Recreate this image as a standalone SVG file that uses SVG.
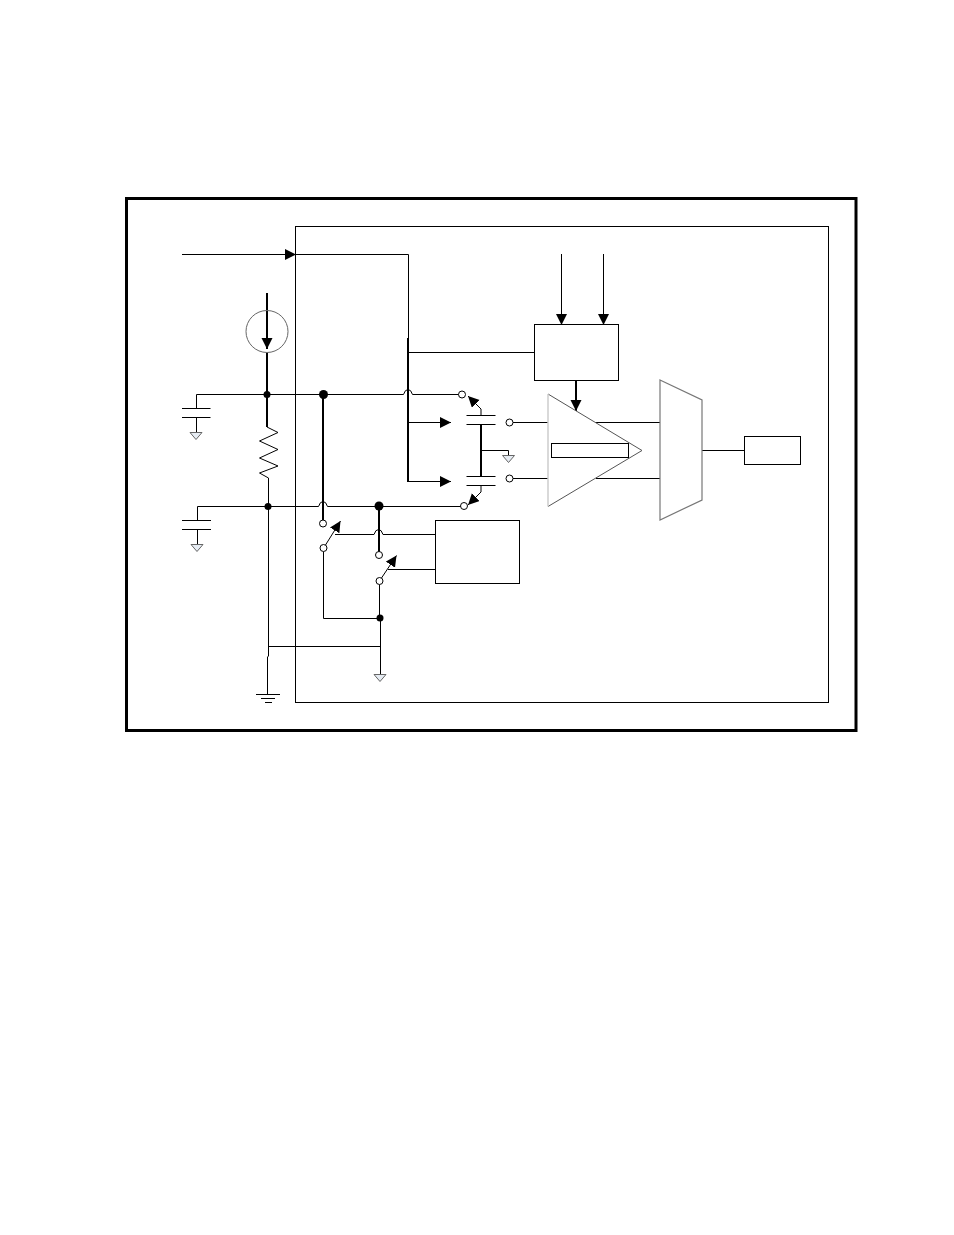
<svg xmlns="http://www.w3.org/2000/svg" width="954" height="1235" viewBox="0 0 954 1235">
<style>
.w{fill:none;stroke:#000;stroke-width:1}
.t{fill:none;stroke:#000;stroke-width:2}
.a{marker-end:url(#ah)}
.g{fill:#e6ecf3;stroke:#666;stroke-width:1}
.b{fill:#fff;stroke:#000;stroke-width:1}
.o{fill:#fff;stroke:#000;stroke-width:1}
.d{fill:#000}
</style>
<defs>
<marker id="ah" markerUnits="userSpaceOnUse" markerWidth="14" markerHeight="14" viewBox="0 0 14 14" refX="11" refY="5.500" orient="auto"><path d="M0 0L11 5.500L0 11Z" fill="#000"/></marker>
<path id="gnd" d="M-6 0H6L0 7Z"/>
</defs>
<rect width="954" height="1235" fill="#fff"/>
<g id="frame"><rect x="126.500" y="198.500" width="729.500" height="532" fill="none" stroke="#000" stroke-width="3"/></g>
<g id="chip"><rect x="295.500" y="226.500" width="533" height="476" fill="none" stroke="#000" stroke-width="1"/></g>
<g id="connectors">
<path class="w a" d="M182 254.500H296"/>
<path class="w" d="M296 254.500H408.500V340"/>
<path class="t" d="M408 338V482"/>
<path class="w" d="M408 352.500H534.500"/>
<path class="w a" d="M408 422.500H451"/>
<path class="w a" d="M408 481.500H451"/>
<path class="t a" d="M267 293V349"/>
<path class="t" d="M267 353V427"/>
<path class="w" d="M267 427L278 432.500L259.500 441L278 449.500L259.500 458L278 466L259.500 473L268.500 478V506"/>
<path class="w" d="M196.500 408V394.500H403.500q1.500 -5 4.500 -5t4.500 5H459"/>
<path class="w" d="M182 408.500H210.500M182 417.500H210.500M196.500 417.500V432"/>
<path class="t" d="M323 394.500V520"/>
<path class="w" d="M197.500 520V506.500H318.500q1.500 -5 4.500 -5t4.500 5H461"/>
<path class="w" d="M182 520.500H211M182 529.500H211M197.500 529.500V544"/>
<path class="t" d="M379 506V552"/>
<path class="w" d="M268.500 506V656L267.500 657V694"/>
<path class="w" d="M256 694.500H280M261 698.500H275M265 702.500H272"/>
<path class="w" d="M268 646.500H380.500"/>
<path class="w" d="M323.500 551.500V618.500H380"/>
<path class="w" d="M379.500 584.500V618.500H380.500V675"/>
<path class="w a" d="M325.500 545L340.500 521"/>
<path class="w" d="M335 534.500H374q1.500 -5 4.500 -5t4.500 5H435.500"/>
<path class="w a" d="M381.500 578L396.500 555.500"/>
<path class="w" d="M388 569.500H435.500"/>
<path class="w a" d="M481 415V409L468 396"/>
<path class="w" d="M466.500 415.500H495.500M466.500 424.500H495.500M466.500 476.500H495.500M466.500 485.500H495.500"/>
<path class="t" d="M481 424V476.500"/>
<path class="w a" d="M481 485.500V492L468 505"/>
<path class="w" d="M481 450.500H508.500V455"/>
<path class="w" d="M513 422.500H548M513 478.500H548"/>
<path class="w" d="M596 422.500H660M596 478.500H660"/>
<path class="w" d="M702 450.500H744.500"/>
<path class="w a" d="M561.500 254V325"/>
<path class="w a" d="M603.500 254V325"/>
<path class="t a" d="M576 380.500V411"/>
</g>
<g id="current-source"><circle cx="267" cy="331.500" r="21" fill="none" stroke="#666" stroke-width="1"/></g>
<g id="control-block"><rect class="b" x="534.500" y="324.500" width="84" height="56"/></g>
<g id="logic-block"><rect class="b" x="435.500" y="520.500" width="84" height="63"/></g>
<g id="amplifier"><path d="M548 394L642 450.500L548 506.500" fill="none" stroke="#555" stroke-width="1"/><path d="M548 394V506.500" stroke="#ccc" stroke-width="1.500"/><rect x="551.500" y="443.500" width="77" height="14" fill="#fff" stroke="#000" stroke-width="1"/></g>
<g id="mux"><path d="M660 380L702 400V500L660 520Z" fill="none" stroke="#777" stroke-width="1.200"/></g>
<g id="output-block"><rect class="b" x="744.500" y="436.500" width="56" height="28"/></g>
<g id="grounds">
<use href="#gnd" class="g" x="196" y="432.500"/>
<use href="#gnd" class="g" x="197" y="544.500"/>
<use href="#gnd" class="g" x="380" y="674.500"/>
<use href="#gnd" class="g" x="508.500" y="455.500"/>
</g>
<g id="junctions">
<circle class="d" cx="267" cy="394.500" r="3.500"/>
<circle class="d" cx="323.500" cy="394.500" r="4.500"/>
<circle class="d" cx="268" cy="506.500" r="3.500"/>
<circle class="d" cx="379" cy="506" r="4.500"/>
<circle class="d" cx="380" cy="618" r="3.500"/>
</g>
<g id="terminals">
<circle class="o" cx="462" cy="394.500" r="3.500"/>
<circle class="o" cx="464" cy="506" r="3.500"/>
<circle class="o" cx="509.500" cy="422.500" r="3.500"/>
<circle class="o" cx="509.500" cy="478.500" r="3.500"/>
<circle class="o" cx="323" cy="523.500" r="3.500"/>
<circle class="o" cx="323.500" cy="548" r="3.500"/>
<circle class="o" cx="379" cy="555" r="3.500"/>
<circle class="o" cx="379.500" cy="581" r="3.500"/>
</g>
</svg>
